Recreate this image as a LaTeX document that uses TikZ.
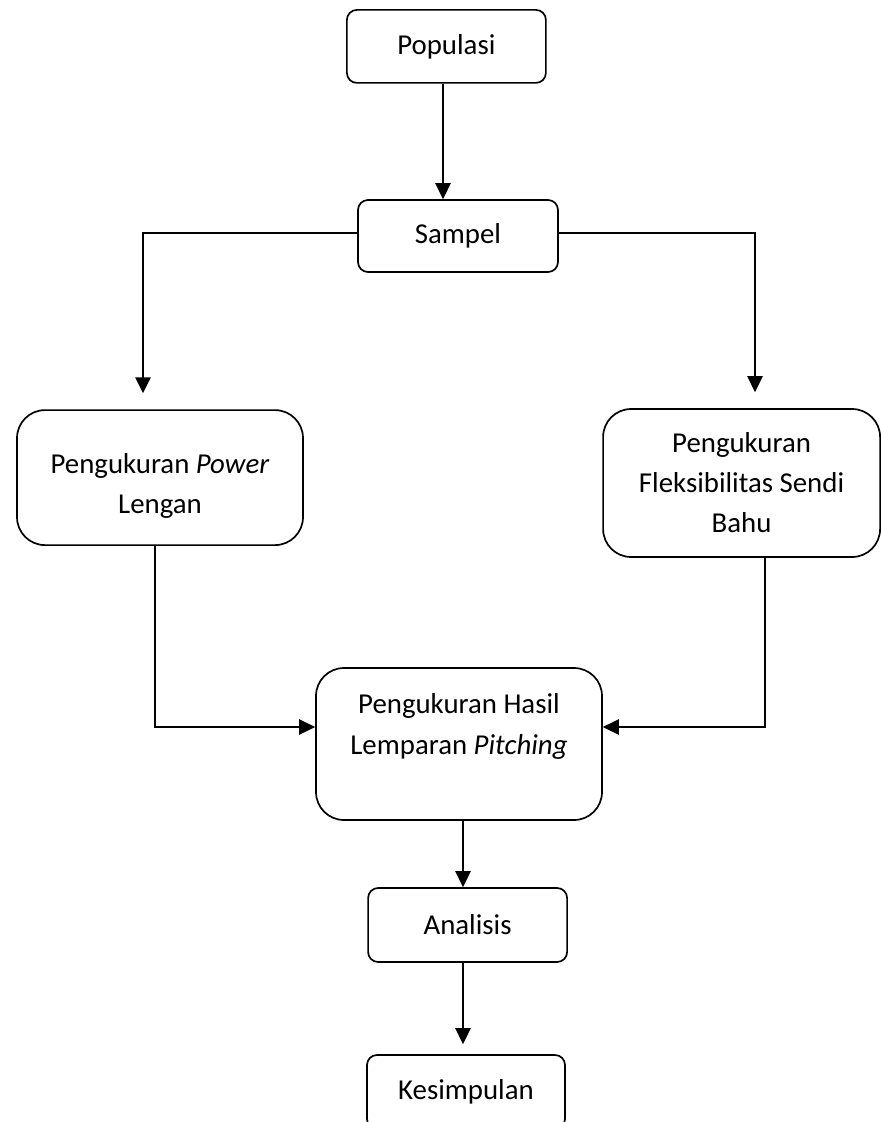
\documentclass[tikz,border=0pt]{standalone}
\usepackage{fontspec}
\setmainfont{Carlito}
\usepackage{tikz}
\usetikzlibrary{arrows.meta}

\begin{document}
\begin{tikzpicture}[
  kotak/.style={draw, line width=1.2pt, rounded corners=0.25cm, align=center,
    font=\fontsize{20.5}{28.5}\selectfont, inner sep=0pt},
  kotakbesar/.style={kotak, rounded corners=0.7cm},
  panah/.style={line width=1.5pt, -{Triangle[length=4mm, width=3.8mm]}}
]
\useasboundingbox (0, 0) rectangle (22.025, -28.05);
\clip (0, 0) rectangle (22.025, -28.05);

% kotak-kotak
\node[kotak, minimum width=4.975cm, minimum height=1.825cm] (populasi) at (11.16, -1.16) {Populasi};
\node[kotak, minimum width=5cm, minimum height=1.8cm] (sampel) at (11.45, -5.9) {Sampel};
\node[kotakbesar, minimum width=7.15cm, minimum height=3.375cm] (power) at (4.0, -11.94)
  {\mbox{}\\[-0.1cm]Pengukuran \textit{Power}\\Lengan};
\node[kotakbesar, minimum width=6.925cm, minimum height=3.7cm] (fleks) at (18.54, -12.075)
  {Pengukuran\\Fleksibilitas Sendi\\Bahu};
\node[kotakbesar, minimum width=7.15cm, minimum height=3.8cm] (hasil) at (11.475, -18.6)
  {Pengukuran Hasil\\Lemparan \textit{Pitching}\\ \mbox{}};
\node[kotak, minimum width=4.975cm, minimum height=1.85cm] (analisis) at (11.69, -23.125) {Analisis};
\node[kotak, minimum width=4.95cm, minimum height=1.85cm] (kesimpulan) at (11.65, -27.3) {Kesimpulan};

% titik belok
\coordinate (atas) at (11.075, 0);
\coordinate (tengah) at (11.575, 0);
\coordinate (kiri) at (3.575, -5.825);
\coordinate (kanan) at (18.875, -5.825);
\coordinate (bawahkiri) at (3.875, -18.175);
\coordinate (bawahkanan) at (19.125, -18.175);

% garis
\draw[panah] (atas |- populasi.south) -- (atas |- sampel.north);
\draw[panah, shorten >=0.4cm] (kiri -| sampel.west) -- (kiri) -- (kiri |- power.north);
\draw[panah, shorten >=0.4cm] (kanan -| sampel.east) -- (kanan) -- (kanan |- fleks.north);
\draw[panah] (bawahkiri |- power.south) -- (bawahkiri) -- (bawahkiri -| hasil.west);
\draw[panah] (bawahkanan |- fleks.south) -- (bawahkanan) -- (bawahkanan -| hasil.east);
\draw[panah] (tengah |- hasil.south) -- (tengah |- analisis.north);
\draw[panah, shorten >=0.25cm] (tengah |- analisis.south) -- (tengah |- kesimpulan.north);
\end{tikzpicture}
\end{document}
